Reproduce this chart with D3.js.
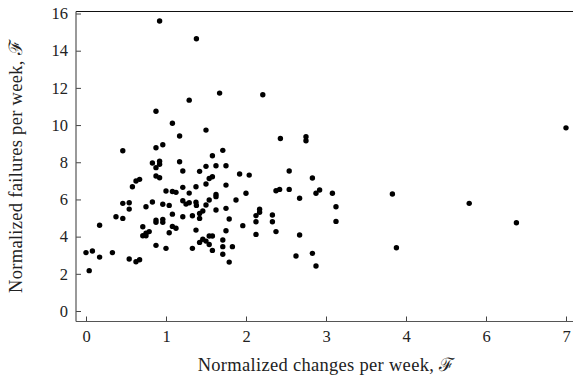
<!DOCTYPE html>
<html lang="en">
<head>
  <meta charset="utf-8">
  <title>Failures vs changes</title>
  <script src="https://cdnjs.cloudflare.com/ajax/libs/d3/7.8.5/d3.min.js"></script>
  <style>
  body {
    margin: 0;
    background: white;
  }

  .tick text {
    font-family: "Liberation Serif", serif;
    font-size: 16.5px;
    fill: #222;
  }

  .tick line {
    stroke: #444;
  }

  .axis-title {
    font-family: "Liberation Serif", serif;
    font-size: 18.5px;
    letter-spacing: 0.3px;
    fill: #222;
    text-anchor: middle;
  }
  </style>
</head>
<body>
<script>

// Data (normalized changes vs failures per week)
var changes = [
  0.92, 1.38, 1.29, 0.875, 1.08, 1.17, 0.46, 0.96, 0.875, 0.83,
  0.92, 0.92, 0.875, 1.17, 1.21, 1.42, 0.875, 0.92, 0.67, 0.625,
  0.58, 1.21, 1.375, 1.0, 1.08, 1.125, 1.29, 0.46, 0.54, 0.54,
  0.83, 0.75, 0.96, 1.04, 1.21, 1.25, 1.29, 1.375, 1.38, 0.375,
  0.46, 1.08, 1.21, 1.33, 1.42, 0.875, 0.875, 0.96, 0.96, 1.08,
  1.125, 0.17, 0.71, 0.79, 0.75, 0.71, 0.75, 1.04, 1.375, 0.875,
  1.0, 1.33, 1.42, 0.0, 0.08, 0.33, 0.17, 0.04, 0.54, 0.625,
  0.67, 1.5, 2.43, 1.58, 1.71, 1.5, 1.625, 1.75, 1.54, 1.58,
  1.92, 2.04, 1.5, 1.75, 1.625, 1.625, 2.0, 2.375, 2.42, 1.54,
  1.5, 1.625, 1.75, 1.875, 2.17, 2.17, 2.125, 2.33, 1.42, 1.46,
  1.79, 1.67, 2.21, 2.75, 2.75, 2.54, 2.83, 2.54, 2.67, 2.875,
  2.92, 3.08, 3.125, 3.125, 2.125, 2.33, 1.96, 2.375, 2.125, 2.67,
  1.75, 1.58, 1.54, 1.46, 1.5, 1.54, 1.58, 1.71, 1.71, 1.71,
  1.83, 1.79, 2.625, 2.83, 2.875, 3.83, 3.88, 5.58, 6.38, 7.0
];

var failures = [
  15.6, 14.64, 11.34, 10.74, 10.1, 9.41, 8.62, 8.94, 8.78, 7.96,
  8.05, 7.89, 7.71, 8.03, 7.53, 7.51, 7.26, 7.17, 7.08, 6.99,
  6.68, 6.65, 6.68, 6.45, 6.43, 6.38, 6.34, 5.79, 5.82, 5.48,
  5.86, 5.61, 5.74, 5.68, 5.93, 5.75, 5.82, 5.85, 5.68, 5.07,
  4.98, 5.21, 5.07, 5.12, 4.98, 4.89, 4.77, 4.93, 4.77, 4.55,
  4.45, 4.61, 4.53, 4.27, 4.18, 4.05, 4.05, 4.21, 4.35, 3.53,
  3.37, 3.37, 3.69, 3.14, 3.23, 3.14, 2.9, 2.17, 2.8, 2.65,
  2.76, 9.73, 9.28, 8.35, 8.64, 7.78, 7.81, 7.81, 7.13, 7.22,
  7.37, 7.31, 6.83, 6.77, 6.27, 6.15, 6.33, 6.47, 6.54, 5.97,
  5.7, 5.43, 5.52, 5.97, 5.47, 5.31, 5.13, 5.16, 5.25, 5.38,
  4.95, 11.72, 11.63, 9.37, 9.16, 7.53, 7.15, 6.54, 6.06, 6.33,
  6.51, 6.33, 5.61, 4.82, 4.8, 4.8, 4.59, 4.27, 4.12, 4.09,
  4.32, 4.03, 4.03, 3.86, 3.76, 3.58, 3.26, 3.82, 3.46, 3.05,
  3.46, 2.63, 2.96, 3.1, 2.42, 6.29, 3.4, 5.79, 4.75, 9.85
];

var xTicks = [0, 1, 2, 3, 4, 6, 7];
var yTicks = [0, 2, 4, 6, 8, 10, 12, 14, 16];

var xTitle = "Normalized changes per week, \u2131";
var yTitle = "Normalized failures per week, \u2131";

// Display constants
var width = 573;
var height = 375;
var frameLeft = 76, frameRight = 575, frameTop = 11.5, frameBottom = 321.5;
var tickLen = 5;
var dotRadius = 2.7;

var points = changes.map(function(c, i) { return {x: c, y: failures[i]}; });

// the x axis is broken between 4 and 6, so use a piecewise scale
var x = d3.scaleLinear()
  .domain([0, 4, 6, 7])
  .range([86, 406, 486, 566]);

var y = d3.scaleLinear()
  .domain([0, 16])
  .range([311, 13.5]);

var svg = d3.select("body")
  .append("svg")
  .attr("width", width)
  .attr("height", height);

// Axes, ticks point inward
var xAxis = svg.append("g")
  .attr("transform", "translate(0," + frameBottom + ")")
  .call(d3.axisBottom(x).tickValues(xTicks).tickFormat(d3.format("d"))
    .tickSizeInner(-tickLen).tickSizeOuter(0).tickPadding(9));

var yAxis = svg.append("g")
  .attr("transform", "translate(" + frameLeft + ",0)")
  .call(d3.axisLeft(y).tickValues(yTicks).tickFormat(d3.format("d"))
    .tickSizeInner(-tickLen).tickSizeOuter(0).tickPadding(8));

xAxis.select(".domain").remove();
yAxis.select(".domain").remove();

// Frame lines
svg.append("line")
  .attr("x1", frameLeft).attr("x2", frameRight)
  .attr("y1", frameTop).attr("y2", frameTop)
  .attr("stroke", "#111")
  .attr("stroke-width", 1.2);

svg.append("line")
  .attr("x1", frameLeft).attr("x2", frameRight)
  .attr("y1", frameBottom).attr("y2", frameBottom)
  .attr("stroke", "#555")
  .attr("stroke-width", 1.2);

svg.append("line")
  .attr("x1", frameLeft).attr("x2", frameLeft)
  .attr("y1", frameTop).attr("y2", frameBottom)
  .attr("stroke", "#555")
  .attr("stroke-width", 1.2);

// Points
svg.append("g")
  .selectAll("circle")
  .data(points)
  .enter().append("circle")
  .attr("cx", function(d) { return x(d.x); })
  .attr("cy", function(d) { return y(d.y); })
  .attr("r", dotRadius)
  .attr("fill", "black");

// Axis titles
svg.append("text")
  .attr("class", "axis-title")
  .attr("x", 326)
  .attr("y", 371)
  .text(xTitle);

svg.append("text")
  .attr("class", "axis-title")
  .attr("transform", "translate(22," + ((frameTop + frameBottom) / 2) + ") rotate(-90)")
  .text(yTitle);

</script>
</body>
</html>
